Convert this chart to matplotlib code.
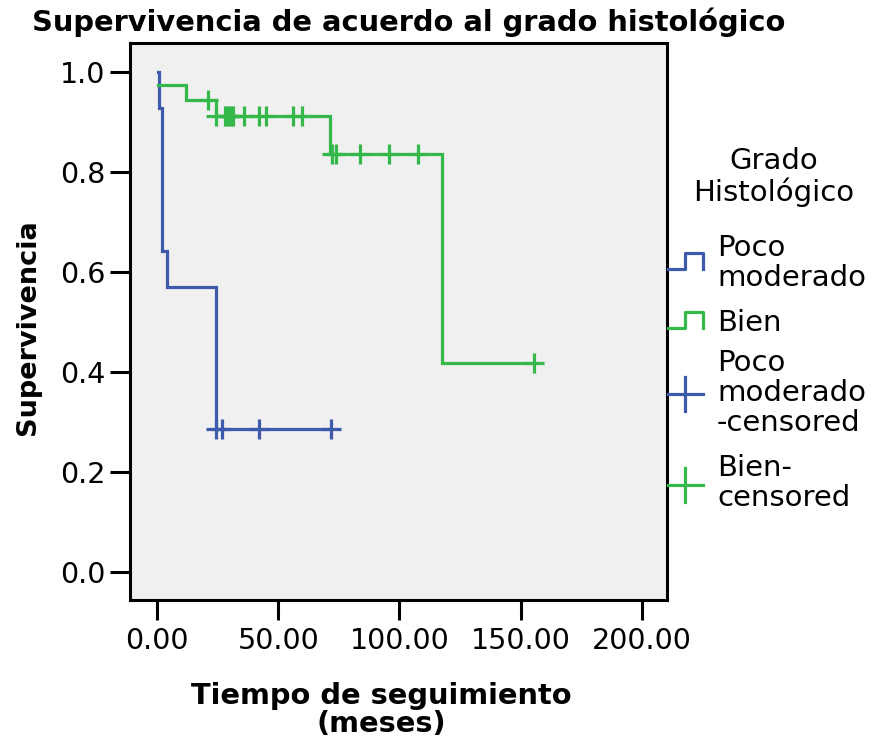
import matplotlib
matplotlib.use("Agg")
import matplotlib.pyplot as plt
from matplotlib.lines import Line2D

W, H, DPI = 878, 746, 100
plt.rcParams["font.family"] = ["DejaVu Sans"]

AZUL = "#3d5aad"
VERDE = "#35b84a"

# Curva de Kaplan-Meier: grado poco moderado
poco_t = [0.4, 0.9, 2.1, 4.1, 24.3, 71.8]
poco_s = [1.0, 0.929, 0.643, 0.571, 0.286, 0.286]
poco_cens_t = [24.3, 26.8, 42.1, 71.8]
poco_cens_s = [0.286, 0.286, 0.286, 0.286]

# Curva de Kaplan-Meier: grado bien diferenciado
bien_t = [0.4, 12.0, 24.3, 71.5, 117.5, 155.5]
bien_s = [0.974, 0.944, 0.912, 0.836, 0.418, 0.418]
bien_cens_t = [20.9, 24.3, 28.0, 28.8, 29.6, 30.4, 31.2, 35.9, 42.1, 44.9, 56.1, 59.8,
               72.0, 73.8, 83.7, 95.7, 107.6, 155.5]
bien_cens_s = [0.944, 0.912, 0.912, 0.912, 0.912, 0.912, 0.912, 0.912, 0.912, 0.912, 0.912, 0.912,
               0.836, 0.836, 0.836, 0.836, 0.836, 0.418]

x_ticks = [0, 50, 100, 150, 200]
y_ticks = [0.0, 0.2, 0.4, 0.6, 0.8, 1.0]


def fx(px):
    return px / W


def fy(py):
    return 1 - py / H


fig = plt.figure(figsize=(W / DPI, H / DPI), dpi=DPI)
ax = fig.add_axes([fx(130), fy(600), (667 - 130) / W, (600 - 43) / H])
ax.set_facecolor("#f0f0f0")

ax.step(poco_t, poco_s, where="post", color=AZUL, lw=2.3, solid_joinstyle="miter")
ax.step(bien_t, bien_s, where="post", color=VERDE, lw=2.3, solid_joinstyle="miter")
ax.plot(poco_cens_t, poco_cens_s, "+", color=AZUL, ms=15, mew=2.3)
ax.plot(bien_cens_t, bien_cens_s, "+", color=VERDE, ms=15, mew=2.3)

ax.set_xlim(-11.1, 210.3)
ax.set_ylim(-0.056, 1.058)
ax.set_xticks(x_ticks)
ax.set_xticklabels([f"{v:.2f}" for v in x_ticks])
ax.set_yticks(y_ticks)
ax.set_yticklabels([f"{v:.1f}" for v in y_ticks])
ax.tick_params(length=14.5, width=2.2, labelsize=20.5, color="black")
ax.tick_params(axis="x", pad=5)
ax.tick_params(axis="y", pad=3)
for s in ax.spines.values():
    s.set_linewidth(2.2)

fig.text(fx(409), fy(22), "Supervivencia de acuerdo al grado histológico",
         ha="center", va="center", fontsize=20.8, fontweight="bold")
fig.text(fx(381), fy(682), "Tiempo de seguimiento\n(meses)", ha="center", va="top",
         fontsize=20.8, fontweight="bold", linespacing=1.02)
fig.text(fx(28), fy(327), "Supervivencia", ha="center", va="center", rotation=90,
         fontsize=19.5, fontweight="bold")

# leyenda dibujada a mano
fig.text(fx(774), fy(147), "Grado\nHistológico", ha="center", va="top",
         fontsize=21, linespacing=1.1)


def escalon(y0, color):
    xs = [668, 685, 685, 703, 703]
    ys = [y0, y0, y0 - 16, y0 - 16, y0]
    fig.add_artist(Line2D([fx(v) for v in xs], [fy(v) for v in ys], color=color, lw=2.3))


def cruz(yc, color):
    fig.add_artist(Line2D([fx(668), fx(703)], [fy(yc), fy(yc)], color=color, lw=2.3))
    fig.add_artist(Line2D([fx(685.5), fx(685.5)], [fy(yc - 17), fy(yc + 17)], color=color, lw=2.3))


escalon(269, AZUL)
escalon(328, VERDE)
cruz(394, AZUL)
cruz(485, VERDE)

entradas = [(234, "Poco\nmoderado"), (309, "Bien"),
            (349, "Poco\nmoderado\n-censored"), (454, "Bien-\ncensored")]
for ytop, txt in entradas:
    fig.text(fx(717), fy(ytop), txt, ha="left", va="top", fontsize=21, linespacing=1.08)

fig.savefig("out.png", dpi=DPI)
